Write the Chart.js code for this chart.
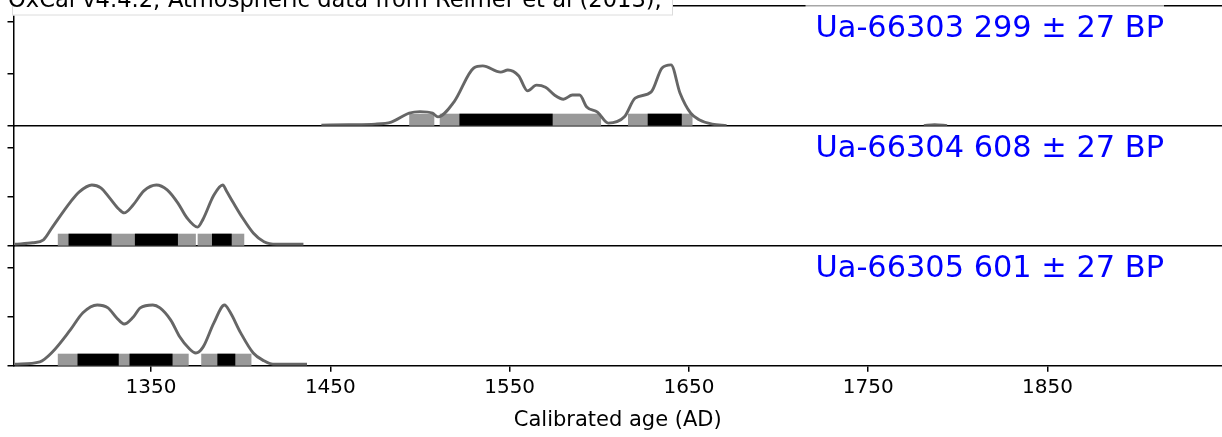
<!DOCTYPE html>
<html><head><meta charset="utf-8">
<script src="https://cdn.jsdelivr.net/npm/chart.js@4.4.1/dist/chart.umd.min.js"></script>
<style>html,body{margin:0;padding:0;background:#fff;overflow:hidden}#wrap{position:relative;width:1222px;height:437px}</style>
</head><body><div id="wrap"><canvas id="c" width="1222" height="437"></canvas></div>
<script>
// ---- data ----
const sampleLabels = ['Ua-66303 299 ± 27 BP', 'Ua-66304 608 ± 27 BP', 'Ua-66305 601 ± 27 BP'];
const headerText = 'OxCal v4.4.2; Atmospheric data from Reimer et al (2013);';
const xTitle = 'Calibrated age (AD)';
const xTickValues = [1350, 1450, 1550, 1650, 1750, 1850];
const yTickValues = [0, 0.01, 0.02];

const curve66303 = [[1445,0.0001],[1460,0.0002],[1475,0.0003],[1484,0.0007],[1494,0.0024],[1500,0.0027],[1507,0.0024],[1510,0.0017],[1519,0.0046],[1530,0.0111],[1535,0.0115],[1545,0.0103],[1549,0.0107],[1555,0.0096],[1560,0.0067],[1565,0.0078],[1570,0.0074],[1575,0.0059],[1580,0.0051],[1585,0.0059],[1589,0.0059],[1593,0.0036],[1599,0.0026],[1605,0.0005],[1614,0.0017],[1620,0.0053],[1629,0.0065],[1635,0.0111],[1640,0.0117],[1645,0.0063],[1651,0.0024],[1656,0.0011],[1663,0.0003],[1671,0.0000],[1700,null],[1781,0.0000],[1787,0.0002],[1794,0.0000]];
const curve66304 = [[1274,0.0003],[1284,0.0006],[1290,0.0012],[1295,0.0038],[1305,0.0089],[1310,0.0110],[1317,0.0124],[1322,0.0118],[1327,0.0097],[1332,0.0075],[1335,0.0067],[1340,0.0083],[1346,0.0112],[1353,0.0124],[1359,0.0114],[1365,0.0087],[1370,0.0057],[1376,0.0038],[1379,0.0054],[1385,0.0103],[1390,0.0124],[1392,0.0112],[1396,0.0087],[1401,0.0057],[1407,0.0026],[1413,0.0008],[1420,0.0003],[1435,0.0003]];
const curve66305 = [[1274,0.0003],[1288,0.0008],[1295,0.0028],[1305,0.0073],[1312,0.0108],[1320,0.0124],[1326,0.0118],[1331,0.0097],[1335,0.0085],[1340,0.0099],[1344,0.0118],[1351,0.0124],[1355,0.0118],[1361,0.0093],[1366,0.0059],[1371,0.0036],[1375,0.0026],[1379,0.0038],[1385,0.0087],[1391,0.0124],[1394,0.0110],[1400,0.0067],[1407,0.0026],[1413,0.0010],[1418,0.0003],[1437,0.0003]];

const range95_66303 = [[1494,1508],[1511,1601],[1616,1652]];
const range68_66303 = [[1522,1574],[1627,1646]];
const range95_66304 = [[1298,1375],[1376,1402]];
const range68_66304 = [[1304,1328],[1341,1365],[1384,1395]];
const range95_66305 = [[1298,1371],[1378,1406]];
const range68_66305 = [[1309,1332],[1338,1362],[1387,1397]];

const yMaxTop = 0.02308;
const yMaxOther = 0.02449;
const xMin = 1273.3, xMax = 1947.3;

// ---- build ----
const FONT = "'DejaVu Sans', 'Liberation Sans', sans-serif";
const toPts = arr => arr.map(p => ({x: p[0], y: p[1]}));
const panels = [
  {axis: 'y1', label: sampleLabels[0], r95: range95_66303, r68: range68_66303},
  {axis: 'y2', label: sampleLabels[1], r95: range95_66304, r68: range68_66304},
  {axis: 'y3', label: sampleLabels[2], r95: range95_66305, r68: range68_66305}
];
const lineStyle = {borderColor: 'rgb(102,102,102)', borderWidth: 2.9, pointRadius: 0, cubicInterpolationMode: 'monotone', fill: false, spanGaps: false};

function yAxis(max) {
  return {
    type: 'linear', position: 'left', stack: 'panels', stackWeight: 1,
    min: 0, max: max,
    afterBuildTicks: s => { s.ticks = yTickValues.map(v => ({value: v})); },
    afterFit: s => { s.width = 13.5; },
    ticks: {display: false},
    grid: {drawOnChartArea: false, drawTicks: true, tickLength: 6, color: '#000', lineWidth: 1.5},
    border: {display: true, color: '#000', width: 1.5}
  };
}

const decor = {
  id: 'decor',
  beforeDatasetsDraw(chart) {
    const ctx = chart.ctx, xs = chart.scales.x, area = chart.chartArea;
    ctx.save();
    ctx.strokeStyle = '#000'; ctx.lineWidth = 1.5;
    ctx.beginPath();
    const top = chart.scales.y1.top;
    ctx.moveTo(area.left, top); ctx.lineTo(area.right, top);
    ['y1', 'y2'].forEach(id => {
      const y = chart.scales[id].getPixelForValue(0);
      ctx.moveTo(area.left, y); ctx.lineTo(area.right, y);
    });
    ctx.stroke();
    panels.forEach(p => {
      const ys = chart.scales[p.axis];
      const base = ys.getPixelForValue(0);
      const h = 12;
      const drawR = (ranges, col) => {
        ctx.fillStyle = col;
        ranges.forEach(r => {
          const a = xs.getPixelForValue(r[0]), b = xs.getPixelForValue(r[1]);
          ctx.fillRect(a, base - h, b - a, h);
        });
      };
      drawR(p.r95, 'rgb(153,153,153)');
      drawR(p.r68, '#000');
    });
    ctx.restore();
  },
  afterDatasetsDraw(chart) {
    const ctx = chart.ctx;
    ctx.save();
    ctx.font = '30.4px ' + FONT;
    ctx.textAlign = 'right'; ctx.textBaseline = 'alphabetic';
    panels.forEach((p, i) => {
      const ys = chart.scales[p.axis];
      const by = ys.top + 31;
      const w = ctx.measureText(p.label).width;
      const bt = i === 0 ? ys.top - 2 : ys.top + 2;
      ctx.fillStyle = 'rgba(255,255,255,0.65)';
      ctx.fillRect(1164 - w - 10, bt, w + 10, by + 8 - bt);
      ctx.fillStyle = '#0000ff';
      ctx.fillText(p.label, 1164, by);
    });
    ctx.restore();
  },
  afterDraw(chart) {
    const ctx = chart.ctx;
    ctx.save();
    ctx.fillStyle = '#fff';
    ctx.fillRect(0, -5, 672, 20.5);
    ctx.strokeStyle = '#dcdcdc'; ctx.lineWidth = 1;
    ctx.strokeRect(12.5, -5, 660, 20);
    ctx.fillStyle = '#000';
    ctx.font = '22.6px ' + FONT;
    ctx.textAlign = 'left'; ctx.textBaseline = 'alphabetic';
    ctx.fillText(headerText, 8, 6.5);
    ctx.restore();
  }
};

new Chart(document.getElementById('c'), {
  type: 'line',
  data: {
    datasets: [
      Object.assign({data: toPts(curve66303), yAxisID: 'y1'}, lineStyle),
      Object.assign({data: toPts(curve66304), yAxisID: 'y2'}, lineStyle),
      Object.assign({data: toPts(curve66305), yAxisID: 'y3'}, lineStyle)
    ]
  },
  options: {
    responsive: false, animation: false, devicePixelRatio: 1,
    layout: {padding: {top: 5.7, left: 0, right: 0, bottom: 0}},
    plugins: {legend: {display: false}, tooltip: {enabled: false}},
    scales: {
      x: {
        type: 'linear', position: 'bottom', min: xMin, max: xMax,
        afterBuildTicks: s => { s.ticks = xTickValues.map(v => ({value: v})); },
        afterFit: s => { s.height = 71.3; },
        ticks: {color: '#000', font: {family: FONT, size: 20}, padding: 4, callback: v => String(v), maxRotation: 0, autoSkip: false},
        grid: {drawOnChartArea: false, drawTicks: true, tickLength: 6, color: '#000', lineWidth: 1.5},
        border: {display: true, color: '#000', width: 1.5},
        title: {display: true, text: xTitle, color: '#000', font: {family: FONT, size: 21}, padding: {top: 0, bottom: 4}}
      },
      y3: yAxis(yMaxOther),
      y2: yAxis(yMaxOther),
      y1: yAxis(yMaxTop)
    }
  },
  plugins: [decor]
});
</script></body></html>
